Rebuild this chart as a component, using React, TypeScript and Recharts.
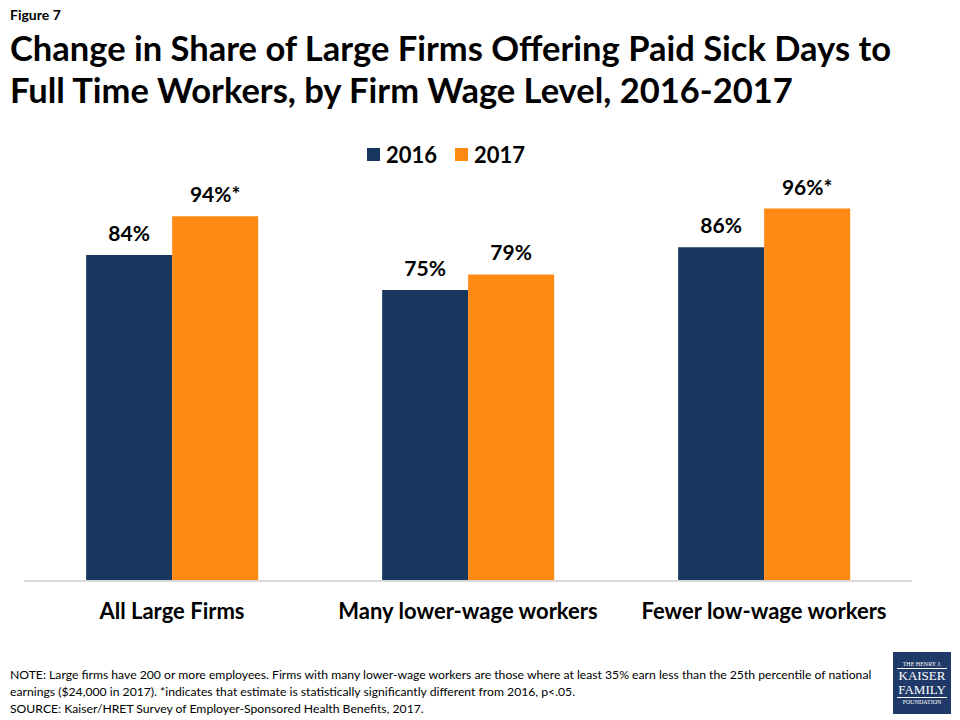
import React from "react"
import { BarChart, Bar, XAxis, YAxis, LabelList } from "recharts"

const categories = ["All Large Firms", "Many lower-wage workers", "Fewer low-wage workers"]
const share2016 = [84, 75, 86]
const share2017 = [94, 79, 96]
const sig2017 = [true, false, true] // * = statistically different from 2016

const NAVY = "#17375E"
const ORANGE = "#FF8912"
const FONT = "Lato, 'Open Sans', sans-serif"

const data = categories.map((name, i) => ({
  name,
  y2016: share2016[i],
  y2017: share2017[i],
  star: sig2017[i],
}))

const ValueLabel = (props: any) => {
  const { x, y, width, value, index, starred } = props
  const suffix = starred && data[index].star ? "*" : ""
  return (
    <text
      x={x + width / 2}
      y={y - 14}
      textAnchor="middle"
      fontFamily={FONT}
      fontWeight={700}
      fontSize={21}
      fill="#000"
    >
      {value}%{suffix}
    </text>
  )
}

export default function App() {
  return (
    <div style={{ position: "absolute", left: 0, top: 0, width: 960, height: 720, background: "#fff", fontFamily: FONT, overflow: "hidden" }}>
      <div style={{ position: "absolute", left: 10, top: 6, fontSize: 14, fontWeight: 700 }}>Figure 7</div>
      <div style={{ position: "absolute", left: 10, top: 27, fontSize: 34.5, fontWeight: 700, lineHeight: "42px", color: "#000", whiteSpace: "nowrap" }}>
        Change in Share of Large Firms Offering Paid Sick Days to<br />
        Full Time Workers, by Firm Wage Level, 2016-2017
      </div>

      <div style={{ position: "absolute", top: 141, left: 0, width: 892, display: "flex", justifyContent: "center", fontSize: 22, fontWeight: 700 }}>
        <span style={{ display: "flex", alignItems: "center", marginRight: 18 }}>
          <span style={{ width: 13, height: 13, background: NAVY, marginRight: 6 }} />2016
        </span>
        <span style={{ display: "flex", alignItems: "center" }}>
          <span style={{ width: 13, height: 13, background: ORANGE, marginRight: 6 }} />2017
        </span>
      </div>

      <div style={{ position: "absolute", left: 0, top: 0 }}>
        <BarChart
          width={960}
          height={720}
          data={data}
          margin={{ top: 193, right: 48, bottom: 100, left: 24 }}
          barCategoryGap="21%"
          barGap={0}
        >
          <YAxis hide domain={[0, 100]} />
          <XAxis
            dataKey="name"
            height={39}
            axisLine={{ stroke: "#d9d9d9", strokeWidth: 2 }}
            tickLine={false}
            tick={{ fill: "#000", fontSize: 22, fontWeight: 700, fontFamily: FONT }}
            tickMargin={16}
            interval={0}
          />
          <Bar dataKey="y2016" fill={NAVY} isAnimationActive={false}>
            <LabelList dataKey="y2016" content={<ValueLabel />} />
          </Bar>
          <Bar dataKey="y2017" fill={ORANGE} isAnimationActive={false}>
            <LabelList dataKey="y2017" content={<ValueLabel starred />} />
          </Bar>
        </BarChart>
      </div>

      <div style={{ position: "absolute", left: 10, top: 666, fontSize: 12.2, lineHeight: "17px", color: "#000", whiteSpace: "nowrap" }}>
        NOTE: Large firms have 200 or more employees. Firms with many lower-wage workers are those where at least 35% earn less than the 25th percentile of national
        <br />
        earnings ($24,000 in 2017). *indicates that estimate is statistically significantly different from 2016, p&lt;.05.
        <br />
        SOURCE: Kaiser/HRET Survey of Employer-Sponsored Health Benefits, 2017.
      </div>

      <div style={{ position: "absolute", left: 893, top: 652, width: 58, height: 62, background: "#1F3A68", color: "#fff", fontFamily: "'Liberation Serif', serif", textAlign: "center", display: "flex", flexDirection: "column", justifyContent: "center" }}>
        <div style={{ fontSize: 6, lineHeight: "8px", borderBottom: "1px solid #fff", margin: "0 4px" }}>THE HENRY J.</div>
        <div style={{ fontSize: 13, lineHeight: "14px" }}>KAISER</div>
        <div style={{ fontSize: 13, lineHeight: "14px" }}>FAMILY</div>
        <div style={{ fontSize: 6, lineHeight: "9px", borderTop: "1px solid #fff", margin: "0 4px" }}>FOUNDATION</div>
      </div>
    </div>
  )
}
